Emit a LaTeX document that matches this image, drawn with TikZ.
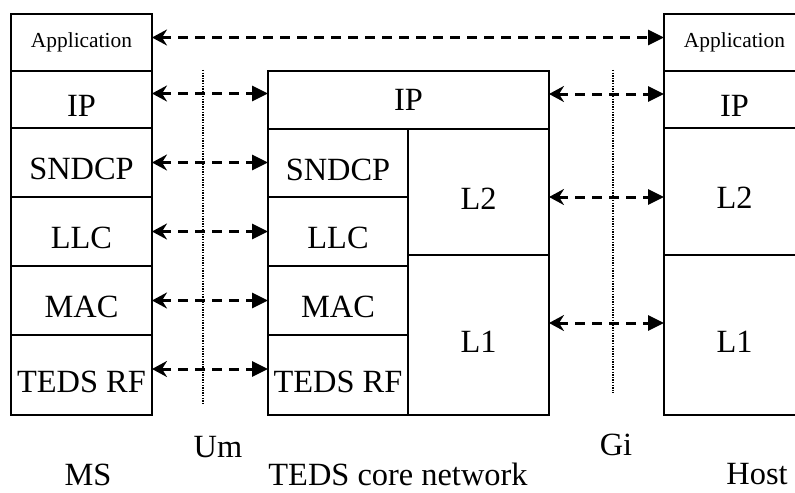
\documentclass[tikz,border=0pt]{standalone}
\usepackage{fontspec}
\setmainfont{Liberation Serif}
\usetikzlibrary{arrows.meta,positioning}

\newcommand{\layerfont}{\fontsize{16.2}{19}\selectfont}
\newcommand{\appfont}{\fontsize{10.7}{12}\selectfont}

\begin{document}
\begin{tikzpicture}[x=0.5pt,y=-0.5pt,
    box/.style={draw,line width=0.8pt,inner sep=0pt,outer sep=0pt,anchor=north west},
    layer/.style={box,font=\layerfont,text height=17pt,text depth=0pt},
    app layer/.style={box,font=\appfont},
    link/.style={{Stealth[length=7.5pt,width=8pt,inset=2.5pt]}-{Triangle[length=8pt,width=7.5pt]},line width=1.5pt,dash pattern=on 5pt off 3.5pt},
    iface/.style={line width=0.8pt,dash pattern=on 0.7pt off 0.6pt},
    caption/.style={font=\layerfont,inner sep=0pt}]
    \useasboundingbox (0,0) rectangle (795,492);

    % mobile station stack
    \node[app layer,minimum width=70.5pt,minimum height=28.5pt] (ms-app) at (11,14) {Application};
    \node[layer,minimum width=70.5pt,minimum height=28.5pt] (ms-ip) at (ms-app.south west) {IP};
    \node[layer,minimum width=70.5pt,minimum height=34.5pt] (ms-sndcp) at (ms-ip.south west) {SNDCP};
    \node[layer,minimum width=70.5pt,minimum height=34.5pt] (ms-llc) at (ms-sndcp.south west) {LLC};
    \node[layer,minimum width=70.5pt,minimum height=34.5pt] (ms-mac) at (ms-llc.south west) {MAC};
    \node[layer,minimum width=70.5pt,minimum height=40pt] (ms-rf) at (ms-mac.south west) {TEDS RF};

    % core network stack
    \node[layer,minimum width=140.5pt,minimum height=29pt,text height=10.5pt] (core-ip) at (268,71) {IP};
    \node[layer,minimum width=70pt,minimum height=34pt] (core-sndcp) at (core-ip.south west) {SNDCP};
    \node[layer,minimum width=70pt,minimum height=34.5pt] (core-llc) at (core-sndcp.south west) {LLC};
    \node[layer,minimum width=70pt,minimum height=34.5pt] (core-mac) at (core-llc.south west) {MAC};
    \node[layer,minimum width=70pt,minimum height=40pt] (core-rf) at (core-mac.south west) {TEDS RF};
    \node[layer,minimum width=70.5pt,minimum height=63pt] (core-l2) at (core-sndcp.north east) {L2};
    \node[layer,minimum width=70.5pt,minimum height=80pt] (core-l1) at (core-l2.south west) {L1};

    % host stack
    \node[app layer,minimum width=70.5pt,minimum height=28.5pt] (host-app) at (664,14) {Application};
    \node[layer,minimum width=70.5pt,minimum height=28.5pt] (host-ip) at (host-app.south west) {IP};
    \node[layer,minimum width=70.5pt,minimum height=63.5pt] (host-l2) at (host-ip.south west) {L2};
    \node[layer,minimum width=70.5pt,minimum height=80pt] (host-l1) at (host-l2.south west) {L1};

    % interfaces
    \coordinate (um-top) at (203,70);
    \coordinate (um-bot) at (203,404);
    \coordinate (gi-top) at (613,70);
    \coordinate (gi-bot) at (613,393);
    \draw[iface] (um-top) -- (um-bot);
    \draw[iface] (gi-top) -- (gi-bot);

    % peer links
    \draw[link] ([yshift=2.5pt]ms-app.east) -- ([yshift=2.5pt]ms-app.east -| host-app.west);
    \draw[link] ([yshift=3pt]ms-ip.east) -- ([yshift=3pt]ms-ip.east -| core-ip.west);
    \draw[link] (ms-sndcp.east) -- (ms-sndcp.east -| core-sndcp.west);
    \draw[link] (ms-llc.east) -- (ms-llc.east -| core-llc.west);
    \draw[link] (ms-mac.east) -- (ms-mac.east -| core-mac.west);
    \draw[link] ([yshift=3pt]ms-rf.east) -- ([yshift=3pt]ms-rf.east -| core-rf.west);
    \draw[link] ([yshift=3pt]core-ip.east) -- ([yshift=3pt]core-ip.east -| host-ip.west);
    \draw[link] ([yshift=-2.5pt]core-l2.east) -- ([yshift=-2.5pt]core-l2.east -| host-l2.west);
    \draw[link] ([yshift=6pt]core-l1.east) -- ([yshift=6pt]core-l1.east -| host-l1.west);

    % captions
    \node[caption] (um) at (218,447) {Um};
    \node[caption] (gi) at (616,445) {Gi};
    \node[caption] (ms) at (88,475) {MS};
    \node[caption] (core) at (398,474) {TEDS core network};
    \node[caption] (host) at (757,474) {Host};
\end{tikzpicture}
\end{document}
